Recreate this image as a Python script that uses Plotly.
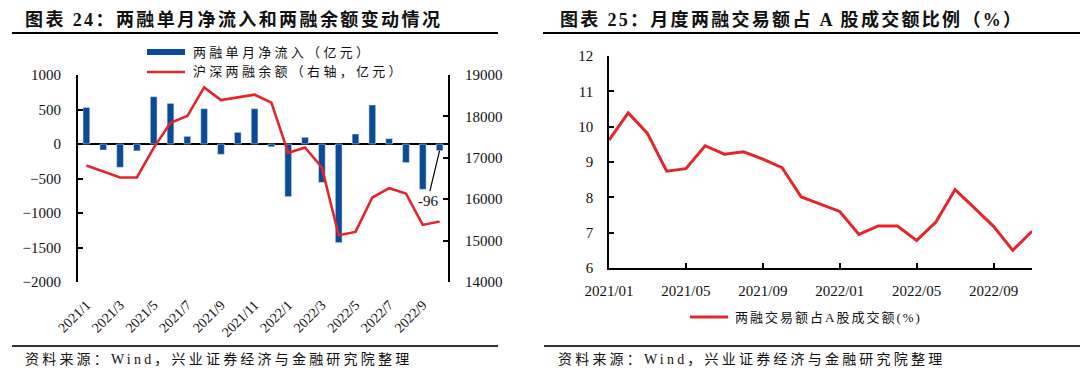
import plotly.graph_objects as go

W, H = 1080, 382

# ---------------- data ----------------
months_left = ["2021/1", "2021/2", "2021/3", "2021/4", "2021/5", "2021/6", "2021/7", "2021/8",
               "2021/9", "2021/10", "2021/11", "2021/12", "2022/1", "2022/2", "2022/3", "2022/4",
               "2022/5", "2022/6", "2022/7", "2022/8", "2022/9", "2022/10"]
net_inflow = [530, -87, -338, -100, 686, 589, 111, 512, -150, 169, 512, -40,
              -763, 97, -556, -1430, 145, 565, 77, -270, -657, -96]
margin_balance = [16815, 16677, 16524, 16524, 17240, 17847, 18008, 18702, 18395, 18460, 18524, 18331,
                  17121, 17250, 16766, 15129, 15210, 16040, 16266, 16137, 15379, 15460]
left_tick_labels = ["2021/1", "2021/3", "2021/5", "2021/7", "2021/9", "2021/11",
                    "2022/1", "2022/3", "2022/5", "2022/7", "2022/9"]

months_right = ["2021/01", "2021/02", "2021/03", "2021/04", "2021/05", "2021/06", "2021/07", "2021/08",
                "2021/09", "2021/10", "2021/11", "2021/12", "2022/01", "2022/02", "2022/03", "2022/04",
                "2022/05", "2022/06", "2022/07", "2022/08", "2022/09", "2022/10", "2022/11"]
trade_ratio = [9.62, 10.39, 9.81, 8.74, 8.81, 9.46, 9.22, 9.29, 9.08, 8.84, 8.01, 7.80,
               7.60, 6.95, 7.19, 7.19, 6.78, 7.30, 8.22, 7.70, 7.18, 6.50, 7.04]
right_tick_labels = ["2021/01", "2021/05", "2021/09", "2022/01", "2022/05", "2022/09"]

# ---------------- style ----------------
BLUE = "#0A4A96"
RED = "#E3262A"
SERIF = "Liberation Serif, 'Noto Sans CJK SC', serif"


def px(x):
    return x / W


def py(y):
    return 1 - y / H


fig = go.Figure()

xl = list(range(len(months_left)))
fig.add_trace(go.Bar(x=xl, y=net_inflow, marker_color=BLUE, width=0.4,
                     name="两融单月净流入（亿元）", xaxis="x", yaxis="y", showlegend=False))
fig.add_trace(go.Scatter(x=xl, y=margin_balance, mode="lines", line=dict(color=RED, width=2.6),
                         name="沪深两融余额（右轴，亿元）", xaxis="x", yaxis="y2", showlegend=False))

xr = list(range(len(months_right)))
fig.add_trace(go.Scatter(x=xr, y=trade_ratio, mode="lines", line=dict(color=RED, width=3),
                         name="两融交易额占A股成交额(%)", xaxis="x3", yaxis="y3", showlegend=False))

tickfont = dict(family=SERIF, size=15, color="#111")

fig.update_layout(
    width=W, height=H,
    margin=dict(l=0, r=0, t=0, b=0, autoexpand=False),
    paper_bgcolor="white", plot_bgcolor="white",
    font=dict(family=SERIF, size=15, color="#111"),
    showlegend=False,
    xaxis=dict(domain=[px(78), px(448)], anchor="y", range=[-0.5, len(months_left) - 0.5],
               tickmode="array", tickvals=[months_left.index(t) for t in left_tick_labels],
               ticktext=left_tick_labels, tickangle=-45, showline=False, ticks="",
               showgrid=False, zeroline=False, tickfont=dict(family=SERIF, size=14, color="#111"),
               ticklabelstandoff=11, automargin=False),
    yaxis=dict(domain=[py(282), py(75)], range=[-2000, 1000], dtick=500, showgrid=False,
               showline=True, linecolor="black", linewidth=2, ticks="inside", ticklen=5,
               tickwidth=2, tickcolor="black", zeroline=True, zerolinecolor="black",
               zerolinewidth=2, tickfont=tickfont, ticklabelstandoff=12, automargin=False),
    yaxis2=dict(overlaying="y", side="right", anchor="x", range=[14000, 19000], dtick=1000,
                tickformat="d", showgrid=False, showline=True, linecolor="black", linewidth=2,
                ticks="inside", ticklen=5, tickwidth=2, tickcolor="black", zeroline=False,
                tickfont=tickfont, ticklabelstandoff=12, automargin=False),
    xaxis3=dict(domain=[px(609), px(1032)], anchor="y3", range=[0, len(months_right) - 1],
                tickmode="array", tickvals=[months_right.index(t) for t in right_tick_labels],
                ticktext=right_tick_labels, showline=True, linecolor="black", linewidth=1.5,
                ticks="inside", ticklen=5, tickwidth=1.5, tickcolor="black", showgrid=False,
                zeroline=False, tickfont=tickfont, ticklabelstandoff=8, automargin=False),
    yaxis3=dict(domain=[py(268), py(56)], anchor="x3", range=[6, 12], dtick=1, showgrid=False,
                showline=True, linecolor="black", linewidth=1.5, ticks="inside", ticklen=5,
                tickwidth=1.5, tickcolor="black", zeroline=False, tickfont=tickfont,
                ticklabelstandoff=11, automargin=False),
)

shapes = []
annotations = []


def spaced(text, sp):
    return f'<span style="letter-spacing:{sp}px">{text}</span>'


# titles
annotations.append(dict(x=px(23), y=py(20), xref="paper", yref="paper", xanchor="left", yanchor="middle",
                        showarrow=False, text="<b>" + spaced("图表 24：两融单月净流入和两融余额变动情况", 2.4) + "</b>",
                        font=dict(family=SERIF, size=18, color="#111")))
annotations.append(dict(x=px(558), y=py(20), xref="paper", yref="paper", xanchor="left", yanchor="middle",
                        showarrow=False, text="<b>" + spaced("图表 25：月度两融交易额占 A 股成交额比例（%）", 2.3) + "</b>",
                        font=dict(family=SERIF, size=18, color="#111")))
shapes.append(dict(type="line", xref="paper", yref="paper", x0=px(12), x1=px(498), y0=py(33), y1=py(33),
                   line=dict(color="black", width=2)))
shapes.append(dict(type="line", xref="paper", yref="paper", x0=px(543), x1=px(1080), y0=py(33), y1=py(33),
                   line=dict(color="black", width=2)))

# sources
for x0, x1, tx in [(12, 498, 23), (544, 1080, 556)]:
    shapes.append(dict(type="line", xref="paper", yref="paper", x0=px(x0), x1=px(x1), y0=py(346), y1=py(346),
                       line=dict(color="#333", width=2)))
    annotations.append(dict(x=px(tx), y=py(359), xref="paper", yref="paper", xanchor="left", yanchor="middle",
                            showarrow=False, text=spaced("资料来源：Wind，兴业证券经济与金融研究院整理", 3.2),
                            font=dict(family=SERIF, size=14, color="#111")))

# left legend
shapes.append(dict(type="rect", xref="paper", yref="paper", x0=px(147), x1=px(185), y0=py(55), y1=py(49),
                   fillcolor=BLUE, line=dict(width=0)))
shapes.append(dict(type="line", xref="paper", yref="paper", x0=px(147), x1=px(185), y0=py(72), y1=py(72),
                   line=dict(color=RED, width=2.6)))
annotations.append(dict(x=px(191), y=py(52), xref="paper", yref="paper", xanchor="left", yanchor="middle",
                        showarrow=False, text=spaced("两融单月净流入（亿元）", 3.3),
                        font=dict(family=SERIF, size=13, color="#111")))
annotations.append(dict(x=px(191), y=py(72), xref="paper", yref="paper", xanchor="left", yanchor="middle",
                        showarrow=False, text=spaced("沪深两融余额（右轴，亿元）", 3.3),
                        font=dict(family=SERIF, size=13, color="#111")))

# right legend
shapes.append(dict(type="line", xref="paper", yref="paper", x0=px(690), x1=px(728), y0=py(317), y1=py(317),
                   line=dict(color=RED, width=3)))
annotations.append(dict(x=px(733), y=py(317), xref="paper", yref="paper", xanchor="left", yanchor="middle",
                        showarrow=False, text=spaced("两融交易额占A股成交额(%)", 2.0),
                        font=dict(family=SERIF, size=13, color="#111")))

# data label for last bar
last = len(net_inflow) - 1
annotations.append(dict(x=last, y=net_inflow[last], xref="x", yref="y", text=str(net_inflow[last]),
                        showarrow=True, arrowhead=0, arrowwidth=1.2, arrowcolor="black",
                        ax=-12, ay=50, font=dict(family=SERIF, size=15, color="#111"), standoff=0))

fig.update_layout(shapes=shapes, annotations=annotations)
fig.write_html("out.html", config={"displayModeBar": False},
               post_script="document.body.style.margin='0';document.body.style.overflow='hidden';")
